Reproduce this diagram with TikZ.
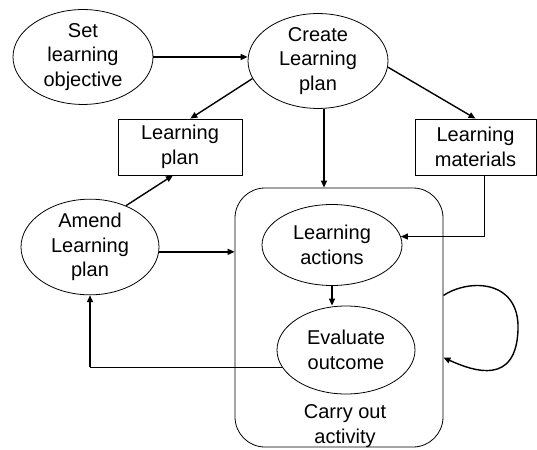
\documentclass[tikz,border=0pt]{standalone}
\usepackage{fontspec}
\setmainfont{Liberation Sans}
\usetikzlibrary{shapes.geometric,arrows.meta,calc}
\begin{document}
\begin{tikzpicture}[x=1pt,y=-1pt,
  every node/.style={font=\fontsize{20}{24.5}\selectfont, align=center, inner sep=0pt},
  ell/.style={draw, ellipse, line width=0.8pt},
  boxnode/.style={draw, rectangle, line width=0.8pt},
  arr/.style={line width=1.4pt, -{Triangle[length=7pt,width=6pt]}},
  thinarr/.style={line width=0.8pt, -{Triangle[length=7pt,width=6pt]}}]
\useasboundingbox (0,0) rectangle (537,449);
\node[ell, minimum width=140pt, minimum height=83pt] (set) at (83,57) {Set\\learning\\objective};
\node[ell, minimum width=140pt, minimum height=92pt] (create) at (318,61) {Create\\Learning\\plan};
\node[boxnode, minimum width=124pt, minimum height=56pt] (lplan) at (180,147) {Learning\\plan};
\node[boxnode, minimum width=121pt, minimum height=56pt] (mat) at (475.5,147) {Learning\\materials};
\node[draw, rectangle, rounded corners=30pt, line width=0.8pt, minimum width=208pt, minimum height=259pt] (box) at (339,317.5) {};
\node[ell, minimum width=140pt, minimum height=81pt] (actions) at (332,245) {Learning\\actions};
\node[ell, minimum width=138pt, minimum height=88pt] (eval) at (346,350) {Evaluate\\outcome};
\node[ell, minimum width=138pt, minimum height=89pt] (amend) at (90,247) {Amend\\Learning\\plan};
\node (carry) at (345,426) {Carry out\\activity};

\draw[arr] (set.east) -- (set.east -| create.west);
\draw[arr] (create.195) -- (lplan.70);
\draw[arr] (create.-5) -- (mat.north);
\draw[arr] ([xshift=6pt]create.south) -- ([xshift=6pt]create.south |- box.north);
\draw[thinarr] ([xshift=8.5pt]mat.south) |- (actions.7);
\draw[arr] (actions.south) -- (actions.south |- eval.north);
\coordinate (corner) at (amend.south |- eval.195);
\draw[line width=0.8pt] (eval.195) -- (corner);
\draw[arr] (corner) -- (amend.south);
\draw[arr] (amend.49) -- (lplan.256);
\draw[arr] (amend.-4) -- (amend.-4 -| box.west);
\coordinate (loopend) at ([yshift=-40pt]box.east);
\draw[arr] ([yshift=22pt]box.east) .. controls (470,278) and (520,280) .. (518,330)
  .. controls (516,385) and (475,372) .. (loopend);
\end{tikzpicture}
\end{document}
